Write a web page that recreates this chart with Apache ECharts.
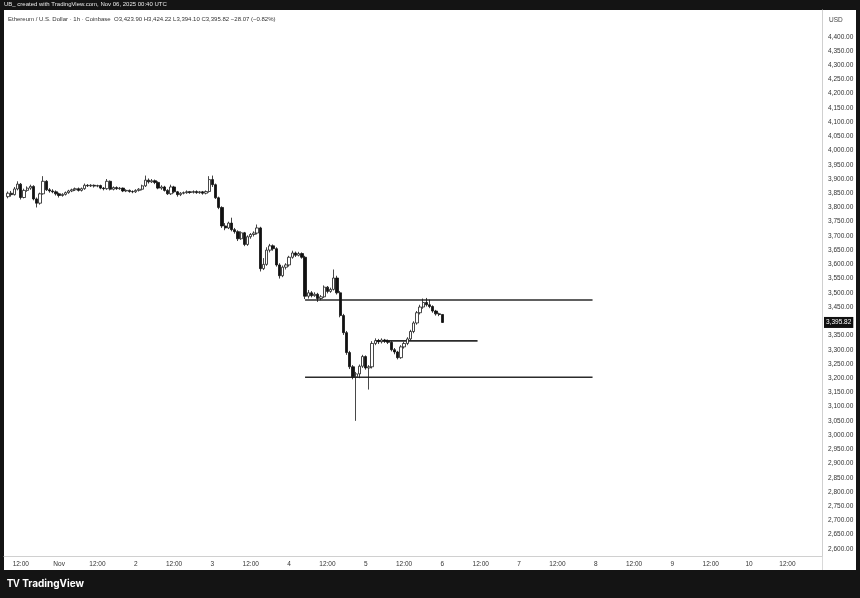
<!DOCTYPE html>
<html>
<head>
<meta charset="utf-8">
<script src="https://cdn.jsdelivr.net/npm/echarts@6/dist/echarts.min.js"></script>
<style>
html,body{margin:0;padding:0;background:#141414;}
#chart{width:860px;height:598px;}
</style>
</head>
<body>
<div id="chart"></div>
<script>
// ---- DATA ----
// hourly candles, first one at 2025-10-31 08:00 UTC
const firstCandle = '2025-10-31T08:00:00Z';
const opens = [3838,3850,3845,3865,3882,3835,3860,3868,3874,3830,3815,3848,3892,3862,3858,3855,3848,3842,3846,3852,
3858,3862,3866,3860,3866,3878,3876,3878,3875,3877,3868,3866,3892,3864,3870,3866,3868,3858,3860,3856,
3855,3860,3864,3876,3896,3890,3894,3888,3868,3872,3860,3848,3872,3855,3845,3850,3852,3855,3853,3856,
3852,3855,3850,3856,3898,3880,3834,3800,3735,3728,3745,3722,3715,3690,3711,3670,3697,3705,3710,3728,
3585,3600,3650,3665,3655,3598,3560,3590,3598,3625,3640,3632,3638,3625,3488,3500,3490,3495,3480,3486,
3520,3505,3512,3552,3500,3420,3360,3290,3240,3205,3215,3242,3276,3236,3240,3322,3332,3328,3334,3330,
3326,3300,3292,3272,3310,3322,3338,3364,3394,3430,3450,3466,3458,3452,3436,3426,3423.90];
const closes = [3850,3845,3865,3882,3835,3860,3868,3874,3830,3815,3848,3892,3862,3858,3855,3848,3842,3846,3852,3858,
3862,3866,3860,3866,3878,3876,3878,3875,3877,3868,3866,3892,3864,3870,3866,3868,3858,3860,3856,3855,
3860,3864,3876,3896,3890,3894,3888,3868,3872,3860,3848,3872,3855,3845,3850,3852,3855,3853,3856,3852,
3855,3850,3856,3898,3880,3834,3800,3735,3728,3745,3722,3715,3690,3711,3670,3697,3705,3710,3728,3585,
3600,3650,3665,3655,3598,3560,3590,3598,3625,3640,3632,3638,3625,3488,3500,3490,3495,3480,3486,3520,
3505,3512,3552,3500,3420,3360,3290,3240,3205,3215,3242,3276,3236,3240,3322,3332,3328,3334,3330,3326,
3300,3292,3272,3310,3322,3338,3364,3394,3430,3450,3466,3458,3452,3436,3426,3424,3395.82];
const lows = [3832,3838,3842,3860,3828,3832,3855,3862,3825,3800,3810,3845,3858,3852,3850,3842,3835,3838,3842,3848,
3854,3858,3856,3856,3862,3872,3872,3870,3871,3864,3860,3862,3860,3860,3862,3862,3854,3854,3852,3850,
3851,3856,3860,3872,3884,3886,3882,3864,3862,3856,3844,3844,3850,3838,3840,3846,3848,3848,3849,3848,
3848,3845,3846,3852,3872,3830,3794,3728,3720,3724,3716,3708,3682,3686,3664,3665,3690,3698,3705,3575,
3580,3595,3642,3648,3592,3550,3555,3582,3592,3620,3626,3628,3620,3478,3480,3484,3486,3468,3474,3482,
3498,3500,3508,3494,3414,3352,3282,3232,3196,3050,3200,3236,3230,3160,3234,3316,3320,3322,3324,3320,
3294,3284,3266,3268,3304,3316,3332,3358,3388,3424,3444,3452,3446,3430,3420,3418,3394.10];
const highs = [3856,3858,3872,3892,3886,3866,3874,3880,3878,3835,3852,3910,3896,3868,3864,3860,3852,3850,3856,3862,
3866,3870,3870,3870,3884,3882,3882,3881,3880,3880,3872,3900,3895,3874,3874,3872,3870,3864,3863,3860,
3864,3868,3880,3912,3902,3900,3898,3892,3878,3876,3864,3880,3876,3858,3854,3856,3860,3858,3860,3860,
3858,3858,3860,3910,3912,3884,3838,3804,3745,3750,3764,3728,3720,3716,3714,3702,3710,3716,3740,3732,
3622,3660,3672,3670,3660,3604,3596,3604,3630,3648,3645,3644,3642,3630,3510,3506,3502,3500,3492,3526,
3524,3518,3582,3560,3506,3426,3366,3296,3246,3222,3248,3282,3280,3246,3330,3340,3338,3340,3338,3336,
3330,3306,3296,3316,3328,3344,3370,3400,3436,3458,3480,3482,3476,3456,3440,3430,3424.22];

// horizontal levels drawn on the chart
const levelPrices = [3475, 3331, 3203];
const levelStarts = ['2025-11-04T05:00:00Z', '2025-11-05T03:00:00Z', '2025-11-04T05:00:00Z'];
const levelEnds   = ['2025-11-07T23:00:00Z', '2025-11-06T11:00:00Z', '2025-11-07T23:00:00Z'];

const lastPrice = 3395.82;

// tick labels
const yTicks = [2600,2650,2700,2750,2800,2850,2900,2950,3000,3050,3100,3150,3200,3250,3300,3350,3400,3450,
3500,3550,3600,3650,3700,3750,3800,3850,3900,3950,4000,4050,4100,4150,4200,4250,4300,4350,4400];
const xTicks = ['2025-10-31T12:00:00Z','2025-11-01T00:00:00Z','2025-11-01T12:00:00Z','2025-11-02T00:00:00Z',
'2025-11-02T12:00:00Z','2025-11-03T00:00:00Z','2025-11-03T12:00:00Z','2025-11-04T00:00:00Z',
'2025-11-04T12:00:00Z','2025-11-05T00:00:00Z','2025-11-05T12:00:00Z','2025-11-06T00:00:00Z',
'2025-11-06T12:00:00Z','2025-11-07T00:00:00Z','2025-11-07T12:00:00Z','2025-11-08T00:00:00Z',
'2025-11-08T12:00:00Z','2025-11-09T00:00:00Z','2025-11-09T12:00:00Z','2025-11-10T00:00:00Z',
'2025-11-10T12:00:00Z'];
const xRange = ['2025-10-31T06:45:00Z', '2025-11-10T22:50:00Z'];
const yRange = [2575, 4494];

// ---- BUILD ----
const HOUR = 3600 * 1000;
const t0 = Date.parse(firstCandle);
const candleData = opens.map((o, i) => [t0 + i * HOUR, o, closes[i], lows[i], highs[i]]);
const xTickNums = xTicks.map(s => Date.parse(s));

function fmtPrice(v) {
  return v.toLocaleString('en-US', {minimumFractionDigits: 2, maximumFractionDigits: 2});
}

const levelSeries = levelPrices.map((p, k) => ({
  type: 'line',
  data: [[Date.parse(levelStarts[k]), p], [Date.parse(levelEnds[k]), p]],
  symbol: 'none',
  silent: true,
  lineStyle: {color: '#2b2b2b', width: 1.6},
  z: 3
}));

const chart = echarts.init(document.getElementById('chart'), null, {renderer: 'canvas'});
const labelFont = 'Liberation Sans, Arial, sans-serif';
chart.setOption({
  animation: false,
  backgroundColor: '#141414',
  textStyle: {fontFamily: labelFont},
  graphic: [
    {type: 'rect', left: 4, top: 10, shape: {width: 852, height: 560}, style: {fill: '#ffffff'}, z: -10, silent: true},
    {type: 'rect', left: 822, top: 556, shape: {width: 0.8, height: 14}, style: {fill: '#d0d0d0'}, z: -5, silent: true}
  ],
  title: [
    {text: 'UB_ created with TradingView.com, Nov 06, 2025 00:40 UTC', left: 4, top: 1, padding: 0,
     textStyle: {color: '#e8e8e8', fontSize: 6, fontWeight: 'normal', fontFamily: labelFont}},
    {text: 'Ethereum / U.S. Dollar · 1h · Coinbase  O3,423.90 H3,424.22 L3,394.10 C3,395.82 −28.07 (−0.82%)', left: 8, top: 16, padding: 0,
     textStyle: {color: '#333333', fontSize: 6, fontWeight: 'normal', fontFamily: labelFont}},
    {text: 'USD', left: 829, top: 17, padding: 0, textStyle: {color: '#444', fontSize: 6.5, fontWeight: 'normal', fontFamily: labelFont}},
    {text: '{logo|TV} TradingView', left: 7, top: 579, padding: 0,
     textStyle: {color: '#ffffff', fontSize: 10, fontWeight: 'bold', fontFamily: 'Inter, Liberation Sans, sans-serif',
       rich: {logo: {fontSize: 10, fontWeight: 'bold', color: '#ffffff', fontFamily: 'Liberation Sans'}}}}
  ],
  grid: {left: 4, right: 38, top: 10, bottom: 42, containLabel: false},
  xAxis: {
    type: 'value',
    min: Date.parse(xRange[0]),
    max: Date.parse(xRange[1]),
    axisLine: {show: true, onZero: false, lineStyle: {color: '#d0d0d0', width: 1}},
    axisTick: {show: false},
    splitLine: {show: false},
    axisLabel: {
      customValues: xTickNums,
      color: '#333', fontSize: 6.5, margin: 5, fontFamily: labelFont,
      formatter: function (v) {
        const d = new Date(v);
        if (d.getUTCHours() === 12) return '12:00';
        if (d.getUTCDate() === 1) return 'Nov';
        return String(d.getUTCDate());
      }
    }
  },
  yAxis: {
    type: 'value',
    position: 'right',
    min: yRange[0],
    max: yRange[1],
    axisLine: {show: true, lineStyle: {color: '#d0d0d0', width: 1}},
    axisTick: {show: false},
    splitLine: {show: false},
    axisLabel: {
      customValues: yTicks,
      color: '#333', fontSize: 6.5, margin: 6, fontFamily: labelFont,
      formatter: v => fmtPrice(v)
    }
  },
  series: [
    {
      type: 'candlestick',
      data: candleData,
      encode: {x: 0, y: [1, 2, 3, 4]},
      barWidth: 2.8,
      clip: false,
      itemStyle: {color: '#ffffff', color0: '#111111', borderColor: '#1a1a1a', borderColor0: '#111111', borderWidth: 0.8},
      z: 4,
      markLine: {
        silent: true,
        symbol: 'none',
        lineStyle: {color: 'rgba(0,0,0,0)', width: 0.1, type: 'solid'},
        label: {
          show: true, position: 'end', distance: 2,
          formatter: fmtPrice(lastPrice),
          color: '#ffffff', backgroundColor: '#111111', padding: [2, 2, 2, 2],
          fontSize: 6.5, fontFamily: labelFont, opacity: 1
        },
        data: [{yAxis: lastPrice}]
      }
    }
  ].concat(levelSeries)
});
</script>
</body>
</html>
